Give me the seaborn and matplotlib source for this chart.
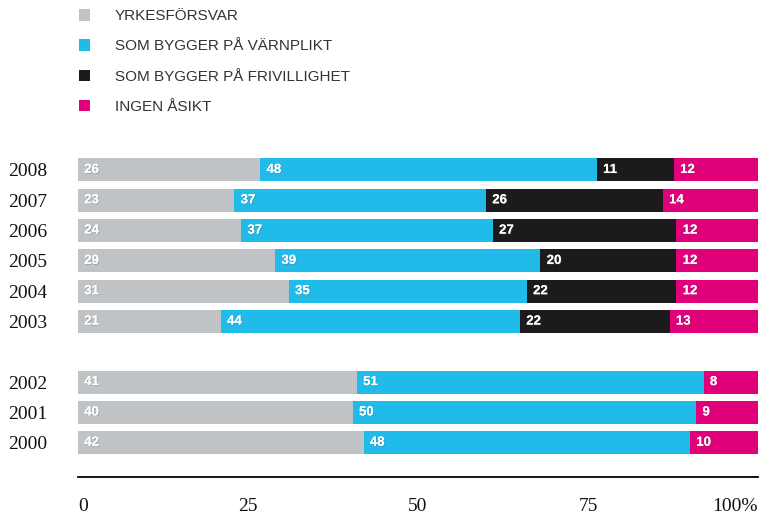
import numpy as np
import pandas as pd
import seaborn as sns
import matplotlib.pyplot as plt
from matplotlib.patches import Patch
import matplotlib.patheffects as pe

# survey answers per year (percent)
years = ['2008', '2007', '2006', '2005', '2004', '2003', '2002', '2001', '2000']
positions = [0, 1, 2, 3, 4, 5, 7, 8, 9]  # gap between 2003 and 2002
yrkesforsvar = [26, 23, 24, 29, 31, 21, 41, 40, 42]
varnplikt = [48, 37, 37, 39, 35, 44, 51, 50, 48]
frivillighet = [11, 26, 27, 20, 22, 22, 0, 0, 0]
ingen_asikt = [12, 14, 12, 12, 12, 13, 8, 9, 10]

series_names = ['YRKESFÖRSVAR', 'SOM BYGGER PÅ VÄRNPLIKT',
                'SOM BYGGER PÅ FRIVILLIGHET', 'INGEN ÅSIKT']
colors = ['#BFC3C6', '#21BBEA', '#1C1A1D', '#E0007A']

sns.set_theme(style='white')
plt.rcParams['font.family'] = ['Liberation Sans', 'DejaVu Sans']

values = np.array([yrkesforsvar, varnplikt, frivillighet, ingen_asikt], dtype=float)
# rows do not always sum to exactly 100 (rounding), scale so each bar is full width
shares = values / values.sum(axis=0) * 100
cum = np.cumsum(shares, axis=0)

df = pd.DataFrame({'pos': positions, 'year': years})
for i in range(4):
    df[f'cum{i}'] = cum[i]

fig = plt.figure(figsize=(7.62, 5.17), dpi=100)
ax = fig.add_axes([0.1024, 0.0774, 0.8924, 0.629])

# draw from the total down so each layer shows its own segment
for i in reversed(range(4)):
    sns.barplot(data=df, x=f'cum{i}', y='pos', orient='y', native_scale=True,
                color=colors[i], width=0.76, saturation=1, linewidth=0, ax=ax)

# segment labels
shadow = [pe.withSimplePatchShadow(offset=(0.6, -0.6), shadow_rgbFace='#555555', alpha=0.35),
          pe.Normal()]
for i in range(4):
    starts = cum[i] - shares[i]
    for p, s, v in zip(positions, starts, values[i]):
        if v <= 0:
            continue
        ax.annotate(f'{int(v)}', xy=(s, p), xytext=(4.5, 0), textcoords='offset points',
                    ha='left', va='center', color='white', fontsize=9.5,
                    fontweight='bold', path_effects=shadow)

ax.set_xlim(0, 100)
ax.set_ylim(10.13, -0.6)
ax.set_xlabel('')
ax.set_ylabel('')

ax.set_yticks(positions, years)
ax.tick_params(axis='y', length=0, pad=50.4)
for t in ax.get_yticklabels():
    t.set_ha('left')
    t.set_family(['Liberation Serif', 'DejaVu Serif'])
    t.set_fontsize(14)
    t.set_color('#111111')

ax.set_xticks([0, 25, 50, 75, 100], ['0', '25', '50', '75', '100%'])
ax.tick_params(axis='x', length=0, pad=15)
xt = ax.get_xticklabels()
for t in xt:
    t.set_family(['Liberation Serif', 'DejaVu Serif'])
    t.set_fontsize(14)
    t.set_color('#111111')
xt[0].set_ha('left')
xt[-1].set_ha('right')

for side in ['left', 'top', 'right']:
    ax.spines[side].set_visible(False)
ax.spines['bottom'].set_color('black')
ax.spines['bottom'].set_linewidth(1.3)

handles = [Patch(facecolor=c, edgecolor='none') for c in colors]
fig.legend(handles, series_names, loc='upper left', bbox_to_anchor=(0.091, 1.0),
           frameon=False, fontsize=11, handlelength=0.78, handleheight=0.78,
           handletextpad=1.6, labelspacing=1.06, labelcolor='#333333',
           borderaxespad=0.2)

fig.savefig('out.png', dpi=100)
